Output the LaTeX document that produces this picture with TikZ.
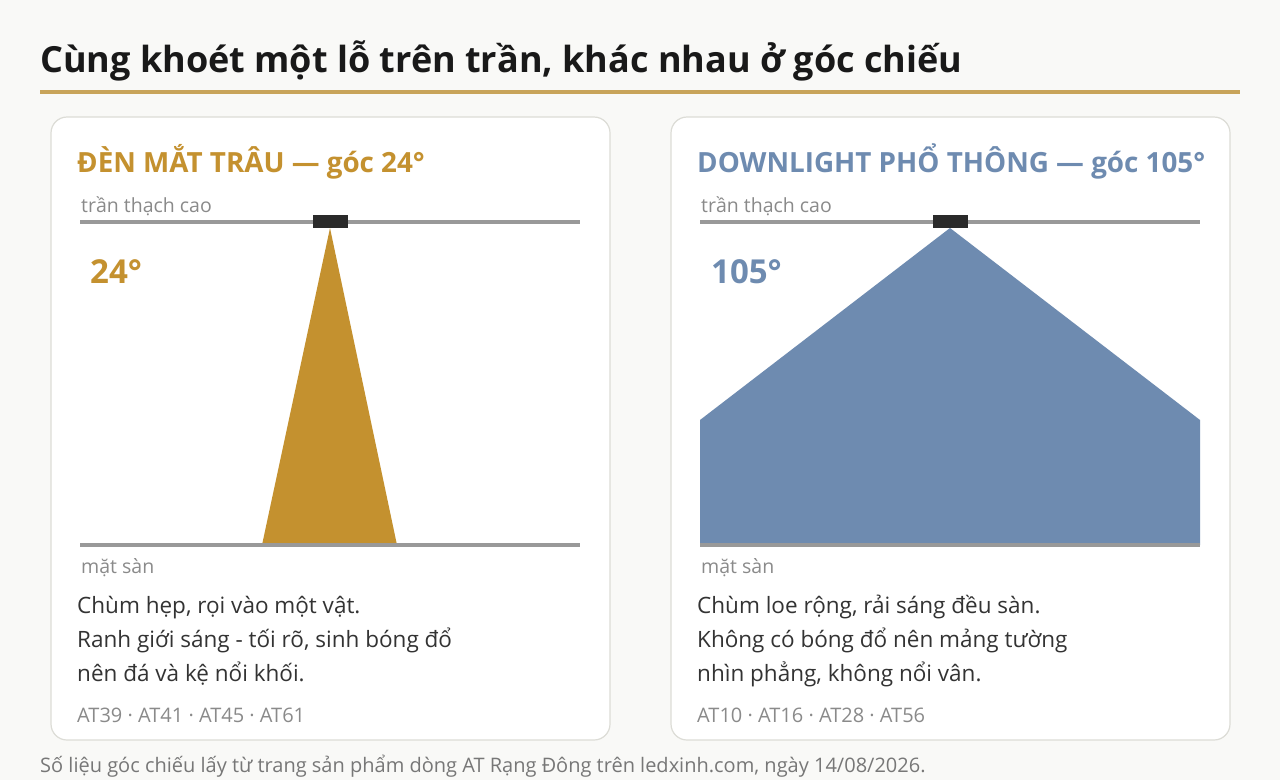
\documentclass[tikz,border=0pt]{standalone}
\usepackage{fontspec}
\setmainfont{Open Sans}
\definecolor{bg}{HTML}{F9F9F7}
\definecolor{gold}{HTML}{C4912F}
\definecolor{goldline}{HTML}{C8A45A}
\definecolor{steel}{HTML}{6E8BB0}
\definecolor{cardline}{HTML}{DCDCD6}
\definecolor{linegray}{HTML}{999999}
\definecolor{labgray}{HTML}{8A8A8A}
\definecolor{bodytxt}{HTML}{333333}
\definecolor{fixt}{HTML}{2A2A2A}
\definecolor{foot}{HTML}{777777}
\tikzset{
  card/.style={draw=cardline, line width=1.2pt, fill=white, rounded corners=16pt},
  surf/.style={draw=linegray, line width=4.5pt},
  lab/.style={anchor=base west, inner sep=0pt, text=labgray, font=\fontsize{19.5}{22}\selectfont},
  head/.style={anchor=base west, inner sep=0pt, font=\bfseries\fontsize{27.8}{32}\selectfont},
  angle/.style={anchor=base west, inner sep=0pt, font=\bfseries\fontsize{33}{38}\selectfont},
  body/.style={anchor=base west, inner sep=0pt, text=bodytxt, align=left, font=\fontsize{22.5}{34}\selectfont},
  codes/.style={anchor=base west, inner sep=0pt, text=labgray, font=\fontsize{20}{24}\selectfont},
  fixture/.style={fill=fixt, draw=none}
}
\begin{document}
\begin{tikzpicture}[x=1pt,y=-1pt]
\fill[bg] (0,0) rectangle (1280,780);
\useasboundingbox (0,0) rectangle (1280,780);
% title
\node[anchor=base west, inner sep=0pt, text=black!90, font=\bfseries\fontsize{36}{42}\selectfont] (title) at (40,72) {Cùng khoét một lỗ trên trần, khác nhau ở góc chiếu};
\draw[goldline, line width=4pt] (40,92) -- (1240,92);
% cards
\draw[card] (51,117) rectangle (610,740);
\draw[card] (671,117) rectangle (1230,740);
% left panel
\node[head, text=gold] (h1) at (77,172) {ĐÈN MẮT TRÂU — góc 24°};
\node[lab] (c1) at (81,212) {trần thạch cao};
\fill[gold] (330,228) -- (397,545) -- (262,545) -- cycle;
\draw[surf] (80,222) -- (580,222);
\draw[surf] (80,545) -- (580,545);
\fill[fixture] (313,215) rectangle (348,228);
\node[angle, text=gold] (a1) at (90,283) {24°};
\node[lab] (f1) at (81,573) {mặt sàn};
\node[body] (b1) at (77,681) {Chùm hẹp, rọi vào một vật.\\Ranh giới sáng - tối rõ, sinh bóng đổ\\nên đá và kệ nổi khối.};
\node[codes] (m1) at (77,722) {AT39 · AT41 · AT45 · AT61};
% right panel
\node[head, text=steel] (h2) at (697,172) {DOWNLIGHT PHỔ THÔNG — góc 105°};
\node[lab] (c2) at (701,212) {trần thạch cao};
\fill[steel] (950,228) -- (1200,420) -- (1200,545) -- (700,545) -- (700,420) -- cycle;
\draw[surf] (700,222) -- (1200,222);
\draw[surf] (700,545) -- (1200,545);
\fill[fixture] (933,215) rectangle (968,228);
\node[angle, text=steel] (a2) at (711,283) {105°};
\node[lab] (f2) at (701,573) {mặt sàn};
\node[body] (b2) at (697,681) {Chùm loe rộng, rải sáng đều sàn.\\Không có bóng đổ nên mảng tường\\nhìn phẳng, không nổi vân.};
\node[codes] (m2) at (697,722) {AT10 · AT16 · AT28 · AT56};
% footer
\node[anchor=base west, inner sep=0pt, text=foot, font=\fontsize{20}{24}\selectfont] (ft) at (40,772) {Số liệu góc chiếu lấy từ trang sản phẩm dòng AT Rạng Đông trên ledxinh.com, ngày 14/08/2026.};
\end{tikzpicture}
\end{document}
